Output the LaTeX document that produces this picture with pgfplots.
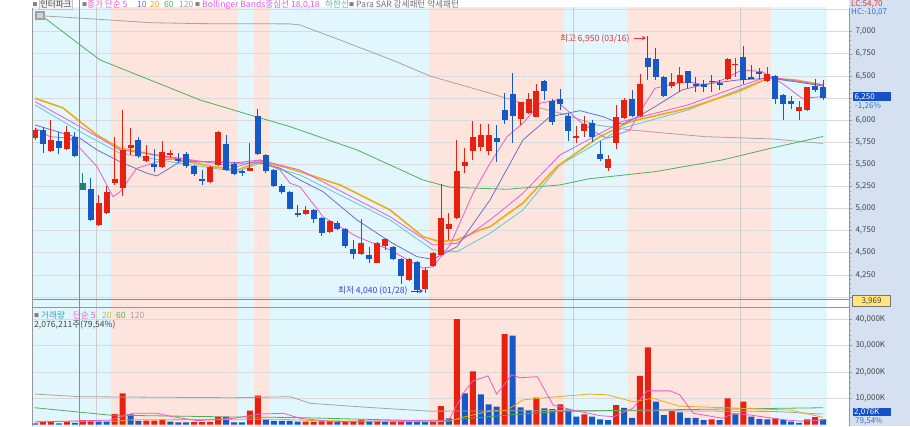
\documentclass[border=0pt]{standalone}
\usepackage{fontspec}
\setmainfont{Noto Sans CJK KR}
\usepackage{pgfplots}
\usepackage{pgfplotstable}
\pgfplotsset{compat=1.18}
\usetikzlibrary{arrows.meta}

\definecolor{bandblue}{RGB}{226,246,253}
\definecolor{bandsal}{RGB}{253,228,220}
\definecolor{gridc}{RGB}{218,218,218}
\definecolor{vgridc}{RGB}{205,205,205}
\definecolor{cred}{RGB}{232,32,16}
\definecolor{cblue}{RGB}{22,88,200}
\definecolor{cteal}{RGB}{30,130,120}
\definecolor{colbg}{RGB}{213,224,240}
\definecolor{axgray}{RGB}{150,150,150}
\definecolor{labgray}{RGB}{70,70,70}
\definecolor{maP}{RGB}{238,90,200}
\definecolor{maB}{RGB}{110,110,210}
\definecolor{maO}{RGB}{240,170,20}
\definecolor{maG}{RGB}{80,176,90}
\definecolor{maGr}{RGB}{165,165,165}
\definecolor{bbC}{RGB}{228,90,228}
\definecolor{bbL}{RGB}{95,200,215}
\definecolor{hicol}{RGB}{230,50,50}
\definecolor{locol}{RGB}{60,60,220}
\definecolor{boxblue}{RGB}{22,80,200}
\definecolor{txtblue}{RGB}{50,110,210}
\definecolor{yelbox}{RGB}{255,229,122}
\definecolor{cursor}{RGB}{236,100,100}
\definecolor{volteal}{RGB}{60,168,184}
\newcommand\fs{\fontsize{8}{9}\selectfont}
\newcommand\fl{\fontsize{8.6}{9.5}\selectfont}

\pgfplotstableread{
i o h l c
0 5800 5910 5780 5890
2 5650 6000 5640 5780
4 5670 5930 5660 5870
8 4810 5150 4800 5060
9 4950 5250 4940 5190
10 5290 5810 5270 5330
11 5230 6110 5140 5660
12 5690 5910 5610 5720
14 5540 5720 5530 5590
16 5470 5760 5460 5640
17 5600 5660 5570 5630
22 5300 5480 5290 5470
23 5490 5880 5480 5870
27 5420 5740 5420 5460
34 4940 5030 4930 4980
37 4730 4870 4720 4860
41 4490 4880 4480 4610
43 4390 4620 4380 4610
44 4580 4670 4530 4660
47 4190 4440 4180 4430
49 4090 4340 4050 4310
50 4350 4510 4340 4500
51 4480 5280 4470 4890
52 4770 4950 4640 4830
53 4890 5780 4880 5430
54 5480 5680 5400 5530
55 5650 5990 5550 5810
56 5700 5960 5650 5830
57 5650 5960 5610 5830
61 6010 6210 5950 6200
62 6080 6310 6070 6240
63 6040 6410 6030 6330
68 5800 5930 5740 5820
69 5880 6050 5810 5960
72 5460 5610 5430 5560
73 5740 6170 5670 6040
74 6020 6250 6010 6230
76 6050 6520 6030 6410
80 6390 6530 6360 6430
81 6420 6600 6320 6510
87 6460 6700 6450 6690
88 6620 6700 6490 6635
92 6440 6600 6430 6520
96 6100 6220 6000 6150
97 6120 6380 6100 6370
}\upc

\pgfplotstableread{
i o h l c
1 5890 5920 5630 5730
3 5760 5860 5620 5690
5 5810 5870 5580 5590
7 5220 5350 4860 4870
13 5780 5810 5570 5590
15 5500 5670 5410 5470
18 5560 5630 5510 5540
19 5620 5640 5460 5480
20 5480 5490 5370 5390
21 5330 5440 5270 5310
24 5730 5830 5430 5440
25 5500 5530 5380 5390
26 5430 5440 5370 5400
28 6050 6130 5610 5620
29 5610 5620 5400 5420
30 5440 5450 5240 5260
31 5260 5280 5170 5190
32 5190 5200 4990 5000
33 4945 5040 4910 4930
35 4980 4990 4840 4880
36 4890 4900 4690 4720
38 4840 4860 4760 4770
39 4770 4780 4550 4580
40 4540 4640 4430 4490
42 4470 4570 4380 4430
45 4570 4580 4420 4430
46 4430 4440 4150 4240
48 4400 4410 4040 4080
58 5800 5950 5530 5750
59 6110 6310 5960 6000
60 6300 6530 5740 6050
64 6440 6450 6230 6330
65 6220 6240 5950 5980
66 6240 6350 6120 6180
67 6050 6080 5760 5880
70 5970 6000 5750 5810
71 5620 5760 5540 5560
75 6240 6340 6040 6050
77 6700 6950 6450 6600
78 6690 6810 6450 6490
79 6490 6500 6260 6270
82 6550 6560 6360 6420
83 6410 6490 6320 6390
84 6410 6450 6320 6380
85 6445 6510 6320 6430
86 6420 6450 6340 6400
89 6710 6840 6410 6450
90 6490 6620 6460 6470
91 6540 6590 6470 6520
93 6500 6510 6180 6240
94 6280 6290 6000 6180
95 6220 6270 6130 6180
98 6390 6470 6320 6340
99 6380 6450 6230 6250
}\downc

\pgfplotstableread{
i o h l c
6 5290 5400 5205 5215
}\selc

\pgfplotstableread{
i v
1 950
2 950
4 950
6 1700
7 1700
10 4000
11 11900
14 1500
15 1500
16 1900
20 900
21 900
22 1000
23 3000
27 5300
28 11000
34 1100
35 1150
36 1200
37 1250
39 1150
40 1200
41 1900
43 1200
45 1000
46 1100
50 1300
51 7000
53 40100
55 20200
59 34400
63 10200
66 7700
69 3900
73 7400
76 18500
77 29300
80 5100
85 2000
87 10000
89 8700
93 2400
97 2000
98 2800
}\volr

\pgfplotstableread{
i v
0 500
3 500
5 700
8 1100
9 1100
12 3900
13 1400
17 1100
18 800
19 800
24 2900
25 800
26 800
29 1900
30 1400
31 1400
32 1400
33 1100
38 1100
42 1100
44 900
47 1000
48 1000
49 950
52 2400
54 11900
56 11500
57 7700
58 6800
60 33800
61 6500
62 5500
64 6200
65 5900
67 5800
68 3000
70 3000
71 2000
72 1700
74 6400
75 2600
78 8700
79 3600
81 4600
82 2600
83 2600
84 1700
86 1700
88 3900
90 3000
91 2100
92 2000
94 1700
95 1100
96 700
99 2000
}\volb

\pgfplotsset{
  wick/.style={draw=none, no markers, forget plot, error bars/.cd, y dir=plus, y explicit, error mark=none,
    error bar style={solid, draw=#1, line width=0.9pt}},
  body/.style={draw=none, no markers, forget plot, error bars/.cd, y dir=plus, y explicit, error mark=none,
    error bar style={solid, draw=#1, line width=6pt, line cap=butt}},
}

\begin{document}
\begin{tikzpicture}[x=1pt,y=1pt,
  lab/.style={anchor=base west, inner sep=0pt, font=\fl}]
\path[use as bounding box] (0,0) rectangle (910,426);
\fill[white] (0,0) rectangle (910,426);
\fill[colbg] (849,0) rectangle (910,426);

% ================= price panel =================
\begin{axis}[
  at={(32pt,120pt)}, anchor=south west, scale only axis,
  width=817pt, height=298pt,
  xmin=-0.377, xmax=102.26, ymin=3898.2, ymax=7267.7,
  axis line style={draw=none},
  xtick=\empty, ytick pos=right, yticklabel pos=right,
  ytick={4000,4250,4500,4750,5000,5250,5500,5750,6000,6250,6500,6750,7000},
  yticklabels={{},{4,250},{4,500},{4,750},{5,000},{5,250},{5,500},{5,750},{6,000},{},{6,500},{6,750},{7,000}},
  minor y tick num=4,
  tick align=outside, major tick length=3pt, minor tick length=1.5pt,
  tick style={draw=axgray, line width=0.5pt},
  yticklabel style={font=\fs, text=labgray},
  clip=true,
]
\fill[bandblue] (axis cs:-1,0) rectangle (axis cs:9.5,9000);
\fill[bandsal] (axis cs:9.5,0) rectangle (axis cs:25.5,9000);
\fill[bandblue] (axis cs:25.5,0) rectangle (axis cs:27.5,9000);
\fill[bandsal] (axis cs:27.5,0) rectangle (axis cs:29.5,9000);
\fill[bandblue] (axis cs:29.5,0) rectangle (axis cs:49.5,9000);
\fill[bandsal] (axis cs:49.5,0) rectangle (axis cs:66.5,9000);
\fill[bandblue] (axis cs:66.5,0) rectangle (axis cs:74.5,9000);
\fill[bandsal] (axis cs:74.5,0) rectangle (axis cs:92.5,9000);
\fill[bandblue] (axis cs:92.5,0) rectangle (axis cs:99.5,9000);
\pgfplotsinvokeforeach{4000,4250,4500,4750,5000,5250,5500,5750,6000,6250,6500,6750,7000,7250}{
  \draw[gridc, line width=0.6pt] (axis cs:-1,#1) -- (axis cs:103,#1);
}
\pgfplotsinvokeforeach{7.66,67.59,88.57}{
  \draw[vgridc, line width=0.7pt] (axis cs:#1,0) -- (axis cs:#1,9000);
}
\draw[cursor, line width=0.9pt] (axis cs:-1,3969) -- (axis cs:103,3969);

% moving averages
\addplot[maGr, line width=0.8pt] coordinates {(0,7184)(8.17,7139)(14.45,7102)(20.73,7091)(32.04,7088)(33.29,7076)(38.32,6906)(44.85,6680)(49.62,6499)(57.16,6304)(61.3,6191)(65.95,6078)(70.6,5945)(74.75,5889)(84.17,5813)(92.59,5787)(99,5736)};
\addplot[maG, line width=0.8pt] coordinates {(1,7170)(8.17,6680)(14.45,6454)(20.73,6228)(27.01,6058)(32.04,5926)(40.45,5663)(48.74,5323)(52.14,5241)(59.3,5218)(65.95,5267)(69.47,5335)(77.89,5417)(86.31,5549)(92.59,5685)(99,5815)};
\addplot[bbL, line width=0.8pt] coordinates {(0,6172)(5.65,5870)(10.68,5625)(18.22,5512)(25.38,5417)(28.27,5512)(33.29,5380)(44.6,4871)(50,4532)(53.02,4512)(57.16,4720)(61.3,4984)(65.95,5493)(73.74,5908)(82.04,6115)(88.32,6341)(92.09,6474)(99,6398)};
\addplot[maO, line width=1.6pt] coordinates {(0,6247)(3.52,6138)(5.65,5983)(7.79,5832)(10.68,5682)(14.07,5625)(18.22,5549)(22.36,5474)(25.38,5436)(28.27,5530)(31.16,5474)(33.29,5417)(38.32,5267)(44.6,4984)(48.74,4682)(50.88,4625)(53.02,4645)(55.9,4758)(57.16,4795)(61.3,5063)(65.58,5474)(70.6,5795)(74.75,5983)(82.04,6134)(88.32,6322)(92.09,6474)(95.5,6454)(99,6398)};
\addplot[bbC, line width=0.8pt] coordinates {(0,6209)(5.65,5926)(10.68,5663)(18.22,5569)(25.38,5474)(28.27,5549)(33.29,5436)(44.6,4908)(50,4588)(53.02,4607)(57.16,4871)(61.3,5173)(65.95,5606)(73.74,5983)(82.04,6172)(88.32,6379)(92.09,6492)(99,6398)};
\addplot[maB, line width=0.8pt] coordinates {(0,5945)(3.52,5851)(5.65,5795)(7.79,5663)(10.68,5530)(14.07,5399)(15.33,5369)(18.22,5530)(22.36,5530)(25.38,5512)(28.27,5519)(30.78,5456)(33.29,5323)(36.18,5191)(40.45,4871)(44.6,4625)(47.99,4456)(50,4426)(53.02,4569)(57.16,5097)(61.3,5776)(64.7,6039)(68.47,6107)(71.36,6039)(73.74,5953)(75.75,6039)(77.89,6152)(81.28,6341)(84.17,6406)(88.32,6454)(92.59,6474)(99,6386)};
\addplot[maP, line width=0.8pt] coordinates {(0,5911)(1.88,5813)(4.4,5795)(5.65,5682)(7.79,5474)(9.8,5134)(10.68,5191)(12.81,5456)(16.08,5549)(18.22,5569)(20.35,5530)(22.36,5530)(25.38,5519)(28.27,5549)(30.78,5436)(32.04,5286)(33.29,5247)(36.18,4908)(40.45,4682)(44.6,4532)(48.74,4325)(50,4343)(52.14,4588)(55.03,5173)(57.16,5512)(59.3,5813)(61.3,5965)(63.44,6191)(65.58,6228)(66.33,6152)(68.47,5983)(70.6,5851)(71.86,5795)(73.12,5832)(74.75,5889)(75.75,6058)(77.89,6360)(80.03,6406)(82.04,6435)(84.17,6398)(86.31,6454)(88.82,6567)(91.33,6548)(93.84,6417)(96.36,6247)(99,6266)};

% candles: wicks
\addplot[wick=cred] table[x=i, y=l, y error plus expr=\thisrow{h}-\thisrow{l}] {\upc};
\addplot[wick=cblue] table[x=i, y=l, y error plus expr=\thisrow{h}-\thisrow{l}] {\downc};
\addplot[wick=cteal] table[x=i, y=l, y error plus expr=\thisrow{h}-\thisrow{l}] {\selc};
% candles: bodies
\addplot[body=cred] table[x=i, y=o, y error plus expr=\thisrow{c}-\thisrow{o}] {\upc};
\addplot[body=cblue] table[x=i, y=c, y error plus expr=\thisrow{o}-\thisrow{c}] {\downc};
\addplot[body=cteal] table[x=i, y=c, y error plus expr=\thisrow{o}-\thisrow{c}] {\selc};
\end{axis}

% ================= volume panel =================
\begin{axis}[
  at={(32pt,0pt)}, anchor=south west, scale only axis,
  width=817pt, height=118pt,
  xmin=-0.377, xmax=102.26, ymin=-530, ymax=44280,
  axis line style={draw=none},
  xtick=\empty, ytick pos=right, yticklabel pos=right,
  ytick={10000,20000,30000,40000},
  yticklabels={{10,000K},{20,000K},{30,000K},{40,000K}},
  minor y tick num=4,
  tick align=outside, major tick length=3pt, minor tick length=1.5pt,
  tick style={draw=axgray, line width=0.5pt},
  yticklabel style={font=\fs, text=labgray},
  scaled y ticks=false,
  clip=true,
]
\fill[bandblue] (axis cs:-1,-5000) rectangle (axis cs:9.5,60000);
\fill[bandsal] (axis cs:9.5,-5000) rectangle (axis cs:25.5,60000);
\fill[bandblue] (axis cs:25.5,-5000) rectangle (axis cs:27.5,60000);
\fill[bandsal] (axis cs:27.5,-5000) rectangle (axis cs:29.5,60000);
\fill[bandblue] (axis cs:29.5,-5000) rectangle (axis cs:49.5,60000);
\fill[bandsal] (axis cs:49.5,-5000) rectangle (axis cs:66.5,60000);
\fill[bandblue] (axis cs:66.5,-5000) rectangle (axis cs:74.5,60000);
\fill[bandsal] (axis cs:74.5,-5000) rectangle (axis cs:92.5,60000);
\fill[bandblue] (axis cs:92.5,-5000) rectangle (axis cs:99.5,60000);
\pgfplotsinvokeforeach{10000,20000,30000,40000}{
  \draw[gridc, line width=0.6pt] (axis cs:-1,#1) -- (axis cs:103,#1);
}
\pgfplotsinvokeforeach{7.66,67.59,88.57}{
  \draw[vgridc, line width=0.7pt] (axis cs:#1,-5000) -- (axis cs:#1,60000);
}
\addplot[ybar, bar width=6pt, bar shift=0pt, fill=cred, draw=none] table[x=i, y=v] {\volr};
\addplot[ybar, bar width=6pt, bar shift=0pt, fill=cblue, draw=none] table[x=i, y=v] {\volb};
\addplot[maGr, line width=0.8pt] coordinates {(0,11600)(5.65,10600)(24.87,10200)(32.04,10600)(34.55,8100)(42,6500)(49.62,5100)(63.44,5300)(76,5300)(92.71,5000)(99,4000)};
\addplot[maG, line width=0.8pt] coordinates {(0,6400)(9.4,3600)(24.9,2900)(32.6,2700)(49.6,1400)(52,1700)(59.3,3600)(66,5000)(76,5500)(99,6400)};
\addplot[maO, line width=0.8pt] coordinates {(0,1300)(10,1300)(12,1800)(25,2000)(31,2000)(35,1500)(49.6,1100)(52,1300)(54,3000)(57,5000)(59.3,5500)(61.3,9400)(65.6,10600)(69.7,11600)(71.9,11300)(75.1,8700)(77.6,10000)(81,7000)(88.6,6200)(94.9,5500)(99,2800)};
\addplot[maP, line width=0.8pt] coordinates {(0,1000)(9.4,1700)(12.3,4300)(15.3,4300)(17.3,3000)(20.4,1500)(24.9,2400)(28.3,4000)(31.2,4300)(33.3,2400)(37.5,1100)(50,1700)(51.3,1300)(52.1,2400)(53.8,11900)(55,16600)(56.9,18500)(58,11600)(59.9,18900)(60.9,17800)(63.1,18200)(65.1,7400)(67.6,5500)(71,3400)(72.7,3000)(75.1,6200)(76.9,12800)(79.8,12800)(81,11300)(82.7,4300)(86.4,2400)(87.7,4300)(89.9,3600)(94.5,1700)(96.2,1300)(99,1700)};
\end{axis}

% ================= frame and overlays =================
\draw[axgray, line width=0.6pt] (32,0) -- (32,418);
\draw[axgray, line width=0.6pt] (849,0) -- (849,418);
\draw[axgray, line width=0.8pt] (32,118.5) -- (849,118.5);
\draw[cursor, line width=1pt] (79.7,0) -- (79.7,426);
\fill[gray!75] (35,405.5) rectangle (45,414.5);
\fill[gray!35] (37,407.5) rectangle (43,412.5);

% top legend
\node[lab, text=gray, font=\fontsize{5}{5}\selectfont] at (32.5,419.5) {■};
\node[lab, text=labgray, fill=gray!12, draw=gray!45, inner sep=0.8pt] at (39,418.5) {인터파크};
\node[lab, text=gray, font=\fontsize{5}{5}\selectfont] at (82,419.5) {■};
\node[lab, text=maP] at (87,418.5) {종가 단순 5};
\node[lab, text=maB] at (137,418.5) {10};
\node[lab, text=maO] at (150,418.5) {20};
\node[lab, text=maG] at (164,418.5) {60};
\node[lab, text=maGr] at (179,418.5) {120};
\node[lab, text=gray, font=\fontsize{5}{5}\selectfont] at (195,419.5) {■};
\node[lab, text=bbC] at (202,418.5) {Bollinger Bands중심선 18,0,18};
\node[lab, text=bbL!90!black] at (325,418.5) {하한선};
\node[lab, text=gray, font=\fontsize{5}{5}\selectfont] at (349,419.5) {■};
\node[lab, text=gray!90!black] at (356,418.5) {Para SAR 강세패턴 약세패턴};

% right-top
\node[lab, font=\fs, text=hicol] at (851,419.5) {LC:54,70};
\node[lab, font=\fs, text=txtblue] at (851,411) {HC:-10,07};

% hi / lo annotations
\node[lab, text=hicol] at (560,384.7) {최고 6,950 (03/16)};
\draw[hicol, line width=0.8pt, -{Stealth[length=4pt,width=4.5pt]}] (634,388) -- (646,388);
\node[lab, text=locol] at (338,132) {최저 4,040 (01/28)};
\draw[locol, line width=0.8pt, -{Stealth[length=4pt,width=4.5pt]}] (411,135) -- (423,135);

% price boxes
\fill[boxblue] (852.5,325.3) rectangle (891,333.8);
\node[lab, font=\fs, text=white] at (854.5,326.8) {6,250};
\node[lab, font=\fs, text=txtblue] at (855,317.5) {-1,26\%};
\node[draw=black!55, fill=yelbox, minimum width=38pt, minimum height=11pt, inner sep=0pt, font=\fs, text=labgray] at (871.5,125) {3,969};

% volume boxes
\fill[boxblue] (852.5,10.3) rectangle (891,18.3);
\node[lab, font=\fs, text=white] at (854,11.6) {2,076K};
\node[lab, font=\fs, text=txtblue] at (855,2.5) {79,54\%};

% volume legend
\node[lab, text=gray, font=\fontsize{5}{5}\selectfont] at (34,109) {■};
\node[lab, text=volteal] at (41,108) {거래량};
\node[lab, text=maP] at (73,108) {단순 5};
\node[lab, text=maO] at (102,108) {20};
\node[lab, text=maG] at (116,108) {60};
\node[lab, text=maGr] at (130,108) {120};
\node[lab, text=labgray] at (34,99) {2,076,211주(79,54\%)};
\end{tikzpicture}
\end{document}
